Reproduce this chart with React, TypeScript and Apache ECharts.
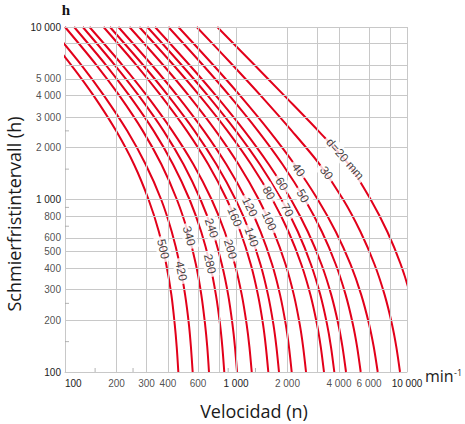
import React, { useEffect, useRef } from "react";
import * as echarts from "echarts";

// Relubrication interval (h) sampled at these hour levels for every curve
const hours = [10000, 6000, 4000, 2500, 1600, 1000, 650, 420, 280, 190, 140, 100];

// Speed (min^-1) of each curve at the hour levels above
const speedD20 = [777, 1288, 1917, 3028, 4557, 6130, 7674, 9198, 10461, 11475, 12128, 12706];
const speedD30 = [589, 958, 1395, 2120, 3082, 4234, 5346, 6461, 7400, 8163, 8659, 9101];
const speedD40 = [460, 738, 1057, 1564, 2197, 3008, 3833, 4677, 5401, 5997, 6389, 6741];
const speedD50 = [402, 642, 915, 1343, 1869, 2527, 3181, 3833, 4379, 4821, 5107, 5361];
const speedD60 = [336, 536, 763, 1119, 1553, 2096, 2631, 3163, 3606, 3963, 4194, 4399];
const speedD70 = [303, 482, 684, 998, 1378, 1845, 2300, 2745, 3112, 3404, 3592, 3757];
const speedD80 = [272, 432, 612, 891, 1225, 1633, 2028, 2411, 2724, 2972, 3131, 3270];
const speedD100 = [238, 376, 529, 761, 1034, 1359, 1663, 1950, 2179, 2357, 2469, 2567];
const speedD120 = [205, 323, 453, 649, 877, 1146, 1394, 1627, 1810, 1952, 2040, 2117];
const speedD140 = [183, 287, 401, 572, 767, 994, 1201, 1391, 1539, 1653, 1723, 1784];
const speedD160 = [168, 262, 364, 516, 688, 884, 1061, 1221, 1344, 1438, 1495, 1545];
const speedD200 = [139, 217, 301, 424, 563, 720, 859, 985, 1081, 1153, 1198, 1236];
const speedD240 = [127, 196, 270, 377, 493, 620, 731, 827, 900, 953, 986, 1014];
const speedD280 = [113, 174, 238, 330, 428, 535, 626, 705, 763, 806, 832, 854];
const speedD340 = [100, 153, 208, 285, 366, 451, 522, 583, 627, 659, 679, 695];
const speedD420 = [82, 125, 169, 231, 296, 365, 421, 469, 504, 530, 545, 558];
const speedD500 = [72, 109, 147, 199, 253, 308, 354, 391, 419, 438, 450, 460];

const curveSpeeds = [
  speedD20, speedD30, speedD40, speedD50, speedD60, speedD70, speedD80, speedD100,
  speedD120, speedD140, speedD160, speedD200, speedD240, speedD280, speedD340, speedD420, speedD500,
];

// Curve labels (bore diameter d) and where they sit on their curve
const labelTexts = ["d=20 mm", "30", "40", "50", "60", "70", "80", "100", "120", "140", "160", "200", "240", "280", "340", "420", "500"];
const labelSpeeds = [4340, 3382, 2318, 2458, 1848, 1993, 1555, 1562, 1204, 1233, 981, 928, 719, 704, 531, 478, 375];
const labelHours = [1717, 1424, 1483, 1048, 1230, 869, 1090, 751, 905, 606, 792, 516, 683, 423, 614, 385, 516];
const labelAngles = [-49, -54, -55, -59, -58, -62, -60, -66, -64, -70, -67, -73, -71, -77, -74, -79, -77];

// Axis grid lines, extra tick labels and minor ticks
const xGridValues = [200, 300, 400, 600, 800, 1000, 2000, 3000, 4000, 6000, 8000, 10000];
const yGridValues = [200, 300, 400, 500, 600, 800, 1000, 2000, 3000, 4000, 5000, 6000, 8000, 10000];
const xExtraLabels = [200, 300, 400, 600, 2000, 4000, 6000];
const yExtraLabels = [200, 300, 400, 500, 600, 800, 2000, 3000, 4000, 5000];
const xMinorTicks = [150, 250, 900, 1300];
const yMinorTicks = [150, 250, 700, 900, 1500, 2500];

const RED = "#e2001a";
const GRID = "#c8c8c8";
const TICK_COLOR = "#222";
const TICK_FONT = "'Liberation Sans Narrow', 'Liberation Sans', Arial, sans-serif";
const TITLE_FONT = "'Open Sans', 'Noto Sans', sans-serif";

const fmt = (v: number) => String(Math.round(v)).replace(/\B(?=(\d{3})+(?!\d))/g, " ");

export default function App() {
  const ref = useRef<HTMLDivElement>(null);

  useEffect(() => {
    if (!ref.current) return;
    const chart = echarts.init(ref.current, undefined, { renderer: "svg" });

    const tickLabelStyle = {
      color: TICK_COLOR,
      fontSize: 10,
      fontFamily: TICK_FONT,
    };

    const option: any = {
      animation: false,
      grid: { left: 65, right: 58, top: 27, bottom: 52, containLabel: false, outerBoundsMode: "none" },
      xAxis: {
        type: "log",
        logBase: 10,
        min: 100,
        max: 10000,
        axisLine: { show: true, lineStyle: { color: GRID, width: 1 } },
        axisTick: { show: false },
        splitLine: { show: false },
        minorTick: { show: false },
        minorSplitLine: { show: false },
        axisLabel: { show: true, formatter: fmt, margin: 6, alignMinLabel: "left", ...tickLabelStyle },
      },
      yAxis: {
        type: "log",
        logBase: 10,
        min: 100,
        max: 10000,
        axisLine: { show: true, lineStyle: { color: GRID, width: 1 } },
        axisTick: { show: false },
        splitLine: { show: false },
        minorTick: { show: false },
        minorSplitLine: { show: false },
        axisLabel: { show: true, formatter: fmt, margin: 4, ...tickLabelStyle },
      },
      series: [
        {
          type: "scatter",
          name: "grid",
          data: [[100, 100]],
          symbolSize: 1,
          itemStyle: { color: "rgba(0,0,0,0)" },
          silent: true,
          clip: false,
          z: 1,
          markLine: {
            silent: true,
            animation: false,
            symbol: ["none", "none"],
            label: { show: false },
            emphasis: { disabled: true },
            lineStyle: { color: GRID, width: 1, type: "solid" },
            data: [
              ...xGridValues.map((v) => ({ xAxis: v })),
              ...yGridValues.map((v) => ({ yAxis: v })),
            ],
          },
        },
        {
          type: "scatter",
          name: "x minor ticks",
          data: xMinorTicks.map((v) => [v, 100]),
          symbol: "rect",
          symbolSize: [1, 4],
          symbolOffset: [0, -2],
          itemStyle: { color: "#a0a0a0" },
          silent: true,
          clip: false,
          z: 2,
        },
        {
          type: "scatter",
          name: "y minor ticks",
          data: yMinorTicks.map((v) => [100, v]),
          symbol: "rect",
          symbolSize: [4, 1],
          symbolOffset: [2, 0],
          itemStyle: { color: "#a0a0a0" },
          silent: true,
          clip: false,
          z: 2,
        },
        {
          type: "scatter",
          name: "x labels",
          data: xExtraLabels.map((v) => [v, 100]),
          symbolSize: 1,
          itemStyle: { color: "rgba(0,0,0,0)" },
          silent: true,
          clip: false,
          z: 2,
          label: {
            show: true,
            position: "bottom",
            distance: 5.5,
            formatter: (p: any) => fmt(p.value[0]),
            ...tickLabelStyle,
          },
        },
        {
          type: "scatter",
          name: "y labels",
          data: yExtraLabels.map((v) => [100, v]),
          symbolSize: 1,
          itemStyle: { color: "rgba(0,0,0,0)" },
          silent: true,
          clip: false,
          z: 2,
          label: {
            show: true,
            position: "left",
            distance: 3.5,
            formatter: (p: any) => fmt(p.value[1]),
            ...tickLabelStyle,
          },
        },
        ...curveSpeeds.map((sp, i) => ({
          type: "line",
          name: labelTexts[i],
          data: sp.map((n, j) => [n, hours[j]]),
          showSymbol: false,
          symbol: "none",
          smooth: 0.3,
          clip: true,
          silent: true,
          z: 3,
          lineStyle: { color: RED, width: 2 },
        })),
        {
          type: "scatter",
          name: "curve labels",
          z: 10,
          symbolSize: 1,
          itemStyle: { color: "rgba(0,0,0,0)" },
          silent: true,
          clip: false,
          data: labelTexts.map((t, i) => ({
            name: t,
            value: [labelSpeeds[i], labelHours[i]],
            label: { rotate: labelAngles[i] },
          })),
          label: {
            show: true,
            position: "inside",
            formatter: "{b}",
            color: "#111",
            fontSize: 12,
            fontFamily: "'Liberation Sans', Arial, sans-serif",
            backgroundColor: "#fff",
            padding: [1, 3],
          },
        },
      ],
      graphic: [
        {
          type: "text",
          x: 66,
          y: 10,
          style: {
            text: "h",
            font: "bold 15px 'Liberation Serif', 'DejaVu Serif', serif",
            fill: "#111",
            textAlign: "center",
            textVerticalAlign: "middle",
          },
        },
        {
          type: "text",
          x: 14,
          y: 214,
          rotation: Math.PI / 2,
          style: {
            text: "Schmierfristintervall (h)",
            font: `18px ${TITLE_FONT}`,
            fill: "#1a1a1a",
            textAlign: "center",
            textVerticalAlign: "middle",
          },
        },
        {
          type: "text",
          x: 254,
          y: 411,
          style: {
            text: "Velocidad (n)",
            font: `18px ${TITLE_FONT}`,
            fill: "#1a1a1a",
            textAlign: "center",
            textVerticalAlign: "middle",
          },
        },
        {
          type: "text",
          x: 425,
          y: 376,
          style: {
            text: "min",
            font: `16px ${TITLE_FONT}`,
            fill: "#1a1a1a",
            textAlign: "left",
            textVerticalAlign: "middle",
          },
        },
        {
          type: "text",
          x: 454,
          y: 372,
          style: {
            text: "-1",
            font: `9px ${TITLE_FONT}`,
            fill: "#1a1a1a",
            textAlign: "left",
            textVerticalAlign: "middle",
          },
        },
      ],
    };

    chart.setOption(option);
    return () => chart.dispose();
  }, []);

  return (
    <div
      ref={ref}
      style={{ position: "fixed", left: 0, top: 0, width: 465, height: 424, background: "#fff" }}
    />
  );
}
